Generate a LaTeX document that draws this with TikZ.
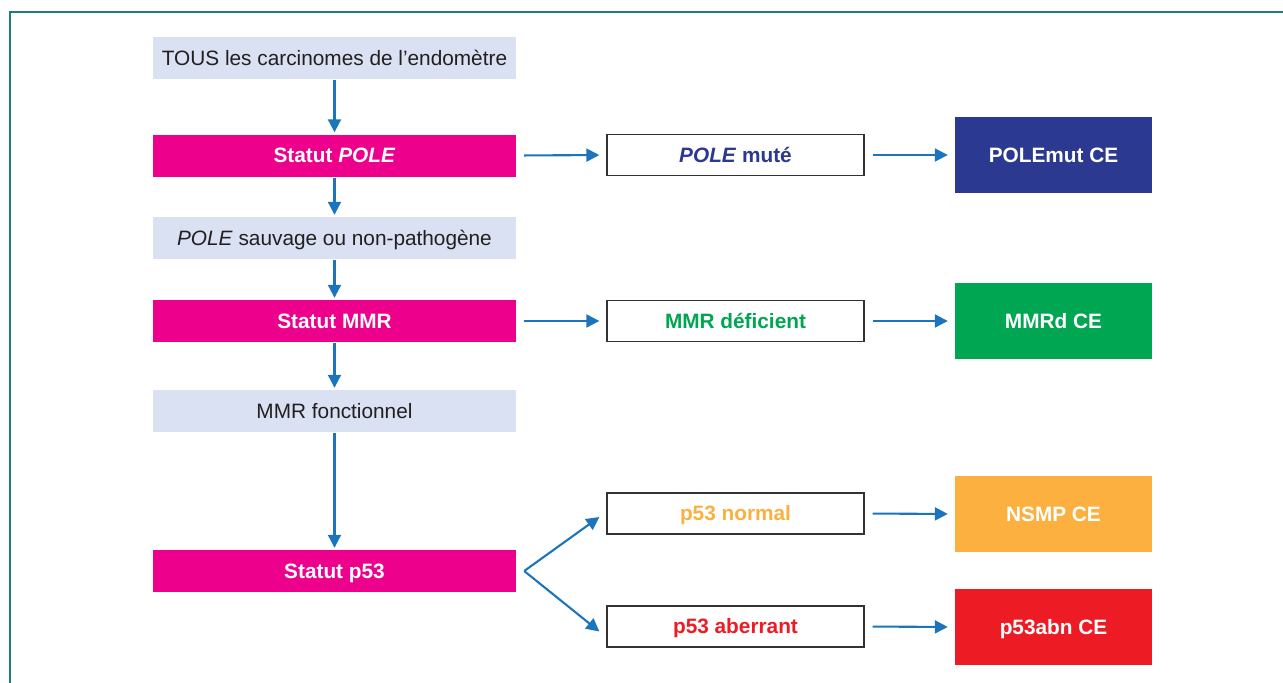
\documentclass[tikz,border=0pt]{standalone}
\usepackage{fontspec}
\setmainfont{Liberation Sans}
\usetikzlibrary{arrows.meta,calc}
\definecolor{framecol}{HTML}{1A7F7E}
\definecolor{lightbox}{HTML}{D9E1F2}
\definecolor{statut}{HTML}{EC008C}
\definecolor{polecol}{HTML}{2B3990}
\definecolor{mmrcol}{HTML}{00A651}
\definecolor{nsmpcol}{HTML}{FBB040}
\definecolor{abncol}{HTML}{ED1C24}
\definecolor{arrowcol}{HTML}{1C75BC}
\definecolor{textcol}{HTML}{231F20}
\begin{document}
\begin{tikzpicture}[x=1pt,y=-1pt,
  every node/.style={inner sep=0pt, text height=19pt, text depth=4.3pt,
    font=\fontsize{20.8}{24}\selectfont},
  infobox/.style={fill=lightbox, minimum width=363pt, minimum height=42pt, text=textcol},
  statbox/.style={fill=statut, minimum width=363pt, minimum height=42pt, text=white,
    font=\fontsize{20.8}{24}\selectfont\bfseries},
  resbox/.style={draw=black!80, line width=1.3pt, fill=white, minimum width=257pt,
    minimum height=41pt, font=\fontsize{20.8}{24}\selectfont\bfseries},
  classbox/.style={minimum width=197pt, minimum height=76pt, text=white,
    font=\fontsize{20.8}{24}\selectfont\bfseries},
  flow/.style={draw=arrowcol, line width=2.1pt, -{Triangle[length=13pt,width=13pt]}},
]
\useasboundingbox (0,0) rectangle (1283,683);
% frame (top and left edges)
\draw[framecol, line width=2.8pt] (10,683) -- (10,12) -- (1283,12);

% left column
\node[infobox] (all) at (334.5,58) {TOUS les carcinomes de l’endomètre};
\node[statbox] (spole) at (334.5,155.5) {Statut \textit{POLE}};
\node[infobox] (wild) at (334.5,238) {\textit{POLE} sauvage ou non-pathogène};
\node[statbox] (smmr) at (334.5,321) {Statut MMR};
\node[infobox] (func) at (334.5,411) {MMR fonctionnel};
\node[statbox] (sp53) at (334.5,571) {Statut p53};

% middle column
\node[resbox, text=polecol] (mut) at (735.5,155) {\textit{POLE} muté};
\node[resbox, text=mmrcol] (def) at (735.5,321) {MMR déficient};
\node[resbox, text=nsmpcol] (nrm) at (735.5,513.5) {p53 normal};
\node[resbox, text=abncol] (abr) at (735.5,626.5) {p53 aberrant};

% right column
\node[classbox, fill=polecol] (cpole) at (1053.5,155) {POLEmut CE};
\node[classbox, fill=mmrcol] (cmmr) at (1053.5,321) {MMRd CE};
\node[classbox, fill=nsmpcol] (cnsmp) at (1053.5,514) {NSMP CE};
\node[classbox, fill=abncol] (cabn) at (1053.5,627) {p53abn CE};

% vertical flow
\draw[flow, shorten <=1pt, shorten >=2pt] (all) -- (spole);
\draw[flow, shorten <=1pt, shorten >=2pt] (spole) -- (wild);
\draw[flow, shorten <=1pt, shorten >=2pt] (wild) -- (smmr);
\draw[flow, shorten <=1pt, shorten >=2pt] (smmr) -- (func);
\draw[flow, shorten <=1pt, shorten >=2pt] (func) -- (sp53);

% horizontal flow
\draw[flow, shorten <=8pt, shorten >=7pt] (spole.east) -- (mut.west);
\draw[flow, shorten <=8pt, shorten >=7pt] (mut.east) -- (cpole.west);
\draw[flow, shorten <=8pt, shorten >=7pt] (smmr.east) -- (def.west);
\draw[flow, shorten <=8pt, shorten >=7pt] (def.east) -- (cmmr.west);
\draw[flow, shorten <=8pt, shorten >=7pt] (nrm.east) -- (cnsmp.west);
\draw[flow, shorten <=8pt, shorten >=7pt] (abr.east) -- (cabn.west);

% p53 fork
\coordinate (fork) at ($(sp53.east)+(8,0)$);
\coordinate (toN) at ($(nrm.west)+(-7,3.5)$);
\coordinate (toA) at ($(abr.west)+(-7,5)$);
\draw[flow] (fork) -- (toN);
\draw[flow] (fork) -- (toA);
\end{tikzpicture}
\end{document}
